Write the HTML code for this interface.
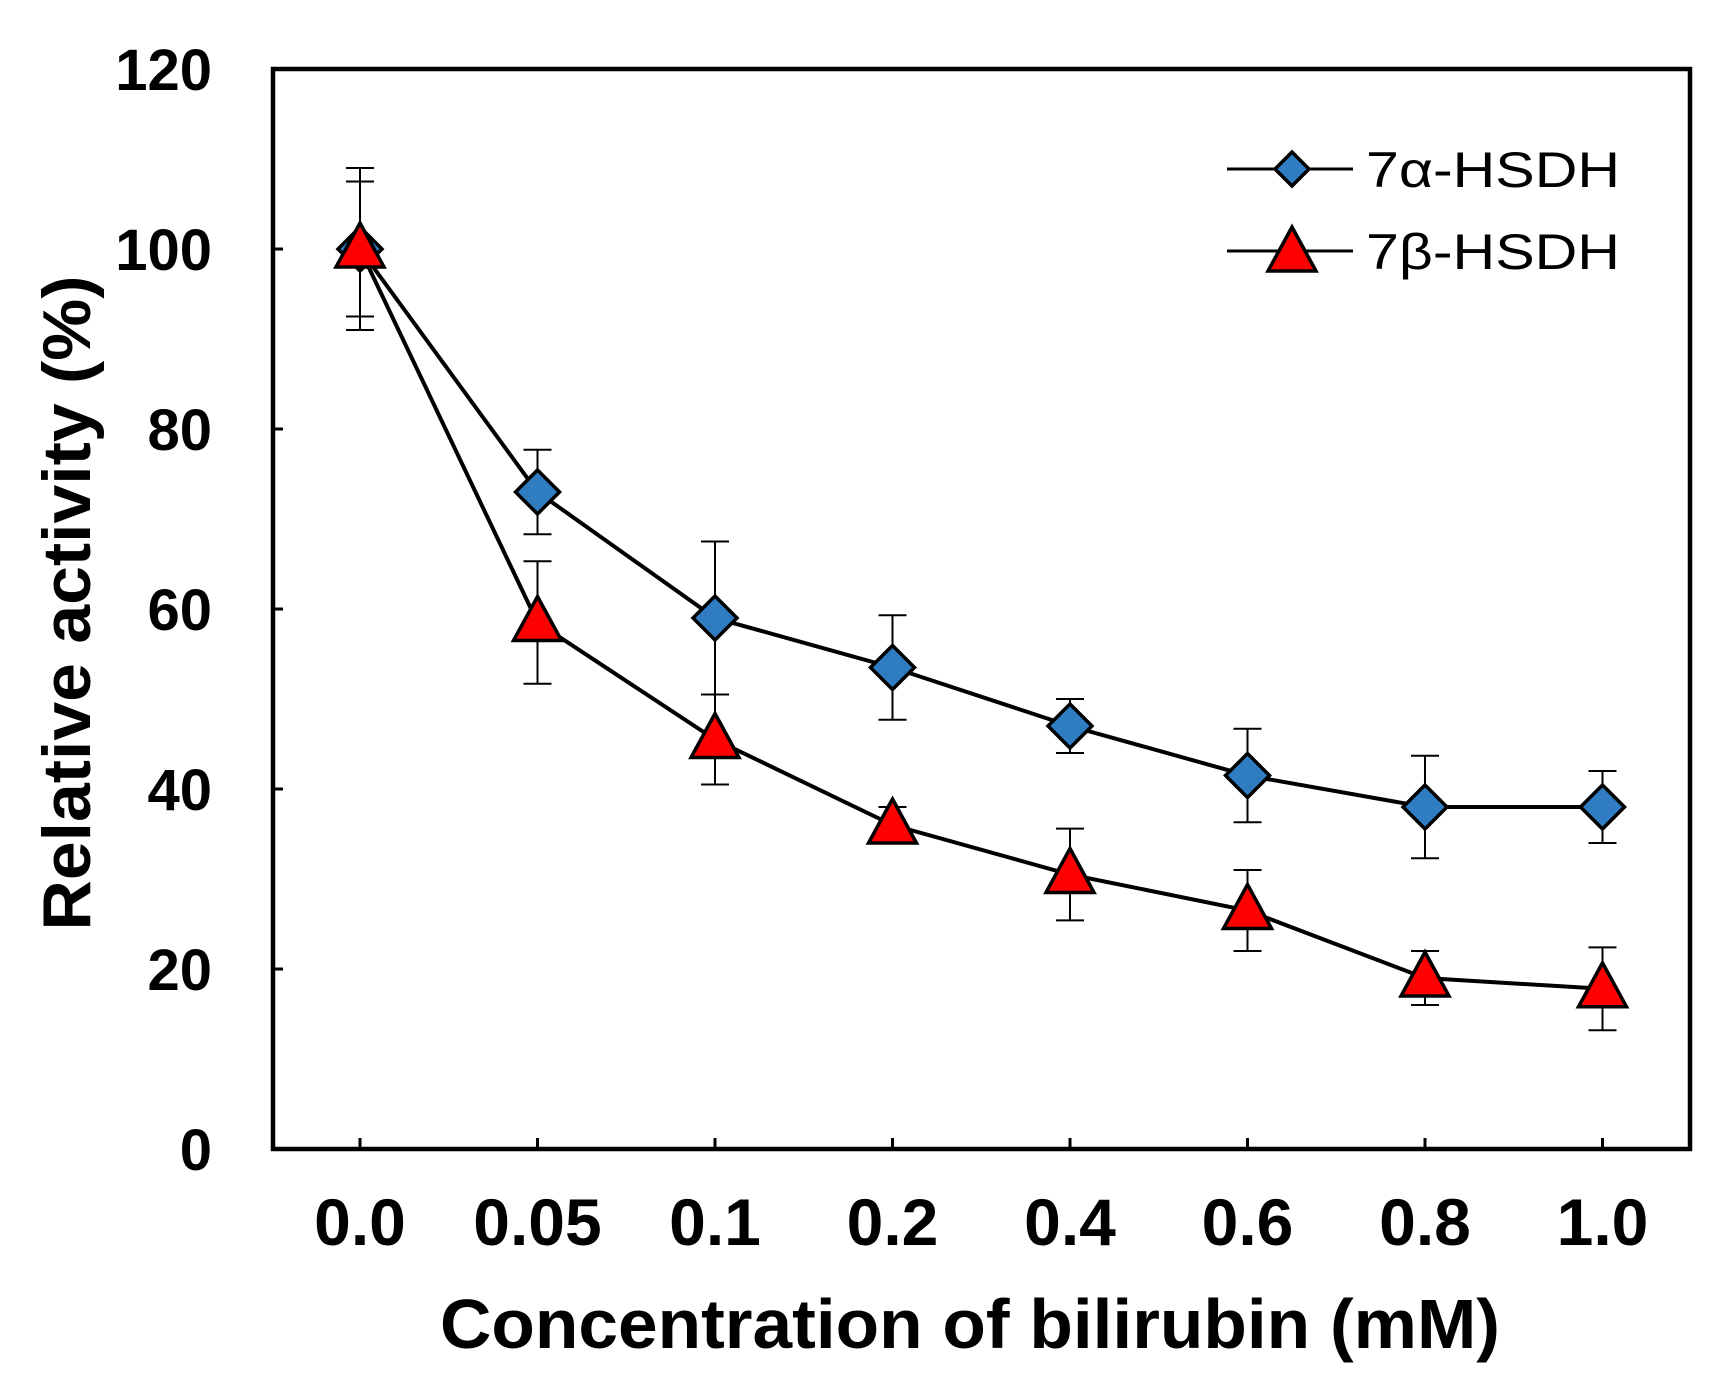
<!DOCTYPE html>
<html><head><meta charset="utf-8"><style>html,body{margin:0;padding:0;background:#fff}svg{display:block}</style></head>
<body>
<svg id="chart" width="1728" height="1393" viewBox="0 0 1728 1393" xmlns="http://www.w3.org/2000/svg" font-family="Liberation Sans, Arial, sans-serif">
<g id="axes"></g>
<g id="series"></g>
<g id="legend"></g>
</svg>
<script>
const categories = ["0.0","0.05","0.1","0.2","0.4","0.6","0.8","1.0"];
const alphaValues = [100, 73, 59, 53.5, 47, 41.5, 38, 38];
const alphaErrors = [9, 4.7, 8.5, 5.8, 3, 5.2, 5.7, 4];
const betaValues = [100, 58.5, 45.5, 36, 30.5, 26.5, 19, 17.8];
const betaErrors = [7.5, 6.8, 5, 2, 5.1, 4.5, 3, 4.6];
const yTicks = [0, 20, 40, 60, 80, 100, 120];

const NS = "http://www.w3.org/2000/svg";
const L = 273, R = 1690, T = 69, B = 1149;
const x0 = 360, dx = 177.5;
function xPos(i){ return x0 + i*dx; }
function yPos(v){ return B - (v/120)*(B-T); }
function mk(tag, attrs, parent){ const e=document.createElementNS(NS,tag); for(const k in attrs) e.setAttribute(k,attrs[k]); parent.appendChild(e); return e; }

const axes = document.getElementById('axes');
const series = document.getElementById('series');
const legend = document.getElementById('legend');

const frame = mk('rect',{x:L,y:T,width:R-L,height:B-T,fill:'none',stroke:'#000','stroke-width':4.5},axes);



yTicks.forEach(v=>{
  const y=yPos(v);
  const t=mk('line',{x1:L,x2:L+10,y1:y,y2:y,stroke:'#000','stroke-width':3},axes);
  
  
  const lb=mk('text',{x:212,y:y+21,'text-anchor':'end','font-size':58,'font-weight':'bold',fill:'#000'},axes);
  lb.textContent=v;
  
  
});
categories.forEach((c,i)=>{
  const x=xPos(i);
  const t=mk('line',{x1:x,x2:x,y1:B,y2:B-11,stroke:'#000','stroke-width':3},axes);
  
  
  const lb=mk('text',{x:x,y:1245,'text-anchor':'middle','font-size':66,'font-weight':'bold',fill:'#000'},axes);
  lb.textContent=c;
  
  
});
const xt=mk('text',{x:970,y:1348,'text-anchor':'middle','font-size':70,'font-weight':'bold',fill:'#000',textLength:1060,lengthAdjust:'spacingAndGlyphs'},axes);
xt.textContent='Concentration of bilirubin (mM)';


const yt=mk('text',{x:0,y:0,'text-anchor':'middle','font-size':68,'font-weight':'bold',fill:'#000',textLength:655,lengthAdjust:'spacingAndGlyphs',transform:'translate(90,603) rotate(-90)'},axes);
yt.textContent='Relative activity (%)';



function errBars(vals, errs, name){
  vals.forEach((v,i)=>{
    const x=xPos(i), e=errs[i];
    const g=mk('g',{stroke:'#000','stroke-width':2},series);
    
    
    mk('line',{x1:x,x2:x,y1:yPos(v+e),y2:yPos(v-e)},g);
    mk('line',{x1:x-14,x2:x+14,y1:yPos(v+e),y2:yPos(v+e)},g);
    mk('line',{x1:x-14,x2:x+14,y1:yPos(v-e),y2:yPos(v-e)},g);
  });
}
function line(vals,name){
  const p=mk('polyline',{points:vals.map((v,i)=>xPos(i)+','+yPos(v)).join(' '),fill:'none',stroke:'#000','stroke-width':4},series);
  
  
}
function diamond(x,y,s,parent){ return mk('polygon',{points:`${x},${y-s} ${x+s},${y} ${x},${y+s} ${x-s},${y}`,fill:'#2f7cc0',stroke:'#000','stroke-width':3.5},parent); }
function tri(x,y,parent){ return mk('polygon',{points:`${x},${y-26} ${x+24},${y+18} ${x-24},${y+18}`,fill:'#ff0000',stroke:'#000','stroke-width':3.5},parent); }

errBars(alphaValues,alphaErrors,'alpha');
errBars(betaValues,betaErrors,'beta');
line(alphaValues,'alpha');
line(betaValues,'beta');
alphaValues.forEach((v,i)=>{
  const m=diamond(xPos(i),yPos(v),22,series);
  
  
});
betaValues.forEach((v,i)=>{
  const m=tri(xPos(i),yPos(v),series);
  
  
});

[['7α-HSDH',169,'a'],['7β-HSDH',251,'b']].forEach(([lbl,y,k])=>{
  const g=mk('g',{},legend);
  
  
  mk('line',{x1:1227,x2:1353,y1:y,y2:y,stroke:'#000','stroke-width':3},g);
  if(k==='a') diamond(1292,y,17,g); else tri(1292,y+2,g);
  const t=mk('text',{x:1366,y:y+18,'font-size':50,fill:'#000',textLength:254,lengthAdjust:'spacingAndGlyphs'},g);
  t.textContent=lbl;
});
</script>
</body></html>
